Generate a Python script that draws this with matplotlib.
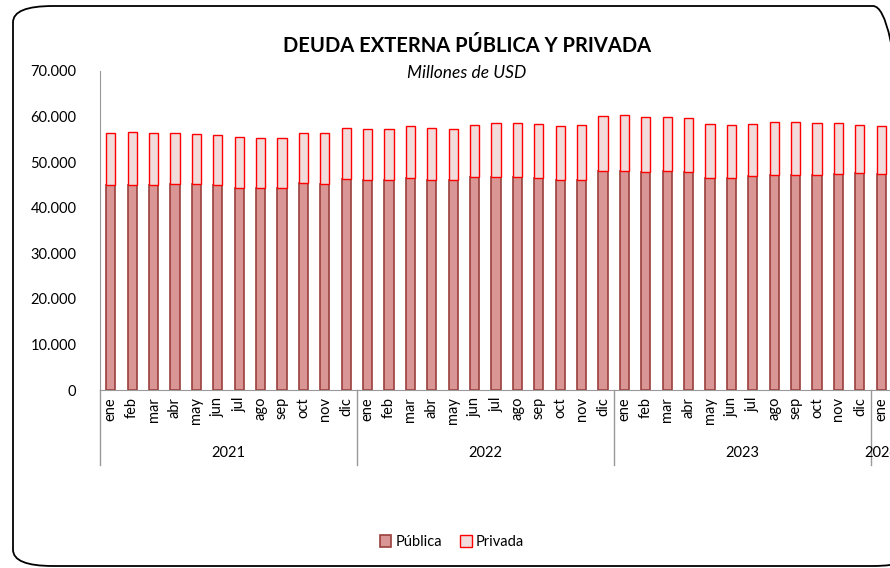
import matplotlib
matplotlib.use("Agg")
import matplotlib.pyplot as plt
from matplotlib.patches import FancyBboxPatch
from matplotlib.ticker import FuncFormatter
import numpy as np

plt.rcParams['font.family'] = ['Lato', 'DejaVu Sans']

meses = ['ene', 'feb', 'mar', 'abr', 'may', 'jun', 'jul', 'ago', 'sep', 'oct', 'nov', 'dic']
anios = ['2021', '2022', '2023', '2024']
etiquetas = meses * 3 + ['ene']

# millones de USD
publica = [44980, 45050, 44980, 45200, 45120, 44980, 44390, 44390, 44320, 45340, 45270, 46370,
           46070, 46070, 46510, 46000, 46070, 46730, 46730, 46660, 46510, 46000, 46150, 48120,
           48120, 47900, 47970, 47830, 46590, 46440, 46880, 47170, 47240, 47170, 47460, 47610,
           47310]
total = [56460, 56530, 56460, 56460, 56240, 55870, 55430, 55290, 55360, 56460, 56390, 57560,
         57340, 57340, 57920, 57560, 57340, 58070, 58510, 58650, 58430, 57920, 58070, 60190,
         60340, 59970, 59820, 59750, 58430, 58210, 58430, 58800, 58800, 58580, 58580, 58210,
         57850]
privada = [t - p for t, p in zip(total, publica)]

fig = plt.figure(figsize=(8.9, 5.68), dpi=100)

# marco redondeado del gráfico
marco = FancyBboxPatch((13 / 890, 2 / 568), 900 / 890, 560 / 568,
                       boxstyle="round,pad=0,rounding_size=0.045",
                       transform=fig.transFigure, fill=False, ec='black', lw=1.3,
                       mutation_aspect=568 / 890)
fig.patches.append(marco)

ax = fig.add_axes([100 / 890, 1 - 390 / 568, 792 / 890, 319 / 568])
x = np.arange(len(publica))
ax.bar(x, publica, width=0.43, color='#D99694', edgecolor='#9B3F3D', lw=1.2, label='Pública')
ax.bar(x, privada, bottom=publica, width=0.43, color='#F2DCDB', edgecolor='#FF0000', lw=1.0,
       label='Privada')

ax.set_ylim(0, 70000)
ax.set_xlim(-0.5, len(publica) - 0.5)
ax.set_yticks(np.arange(0, 70001, 10000))
ax.yaxis.set_major_formatter(FuncFormatter(lambda v, p: f'{int(v):,}'.replace(',', '.')))
ax.tick_params(axis='y', length=0, pad=17, labelsize=10.5)
ax.tick_params(axis='x', length=0, pad=5, labelsize=10.5)
ax.set_xticks(x)
ax.set_xticklabels(etiquetas, rotation=90, va='top')

for s in ['top', 'right']:
    ax.spines[s].set_visible(False)
ax.spines['left'].set_color('#999999')
ax.spines['bottom'].set_color('#999999')

# separadores de años y etiquetas
trans = ax.get_xaxis_transform()
for b in [-0.5, 11.5, 23.5, 35.5]:
    ax.plot([b, b], [0, -0.235], color='#999999', lw=1, transform=trans, clip_on=False)
for i, a in enumerate(anios):
    c = 5.5 + 12 * i if i < 3 else 36
    ax.text(c, -0.197, a, transform=trans, ha='center', va='center', fontsize=10.5)

fig.text(467 / 890, 1 - 46 / 568, 'DEUDA EXTERNA PÚBLICA Y PRIVADA', ha='center', va='center',
         fontsize=14.5, fontweight='bold')
fig.text(467 / 890, 1 - 73 / 568, 'Millones de USD', ha='center', va='center',
         fontsize=12.5, style='italic')

fig.legend(loc='center', bbox_to_anchor=(452 / 890, 1 - 542 / 568), ncol=2, frameon=False,
           fontsize=10.5, handlelength=0.8, handleheight=0.8, handletextpad=0.3,
           columnspacing=1.2)

fig.savefig('out.png', dpi=100)
